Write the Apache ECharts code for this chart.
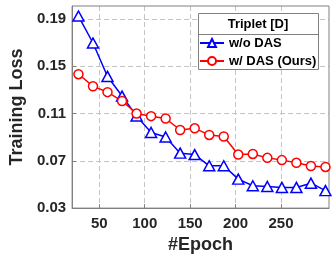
<!DOCTYPE html>
<html><head><meta charset="utf-8">
<script src="https://cdn.jsdelivr.net/npm/echarts@6/dist/echarts.min.js"></script>
<style>html,body{margin:0;padding:0;background:#fff}#c{width:332px;height:259px}</style>
</head><body><div id="c"></div>
<script>
const epochs = [27,43,59,75,91,107,123,139,155,171,187,203,219,235,251,267,283,299];
const woDAS = [0.1925,0.1697,0.1414,0.1248,0.1080,0.0940,0.0902,0.0765,0.0753,0.0658,0.0658,0.0545,0.0489,0.0483,0.0475,0.0475,0.0511,0.0448];
const wDAS = [0.1433,0.1331,0.1281,0.1206,0.1100,0.1078,0.1058,0.0961,0.0975,0.0919,0.0906,0.0753,0.0758,0.0725,0.0706,0.0683,0.0656,0.0648];
const xTicks = [50,100,150,200,250];
const yTicks = [0.03,0.07,0.11,0.15,0.19];
const seriesNames = ['w/o DAS','w/ DAS (Ours)'];
const legendTitle = 'Triplet [D]';

const FONT = 'Liberation Sans';
const TXT = '#262626';
const chart = echarts.init(document.getElementById('c'), null, {renderer:'canvas'});
const pair = (xs, ys) => xs.map((x,i)=>[x, ys[i]]);
chart.setOption({
  animation:false,
  backgroundColor:'#fff',
  grid:{left:58, right:3, top:6, bottom:49, show:true, borderColor:'#808080', borderWidth:1, backgroundColor:'transparent', z:3},
  xAxis:{
    type:'value', min:20, max:302.9,
    name:'#Epoch', nameLocation:'middle', nameGap:22,
    nameTextStyle:{fontFamily:FONT, fontWeight:'bold', fontSize:18, color:TXT},
    axisLine:{show:true, lineStyle:{color:'#808080', width:1}},
    axisTick:{show:true, inside:true, length:4, customValues:xTicks, lineStyle:{color:'#808080'}},
    axisLabel:{customValues:xTicks, margin:8, fontFamily:FONT, fontWeight:'bold', fontSize:15, color:TXT},
    splitLine:{show:true, lineStyle:{color:'#c4c4c4', type:[5,3], width:1}}
  },
  yAxis:{
    type:'value', min:0.03, max:0.201,
    name:'Training Loss', nameLocation:'middle', nameGap:43,
    nameTextStyle:{fontFamily:FONT, fontWeight:'bold', fontSize:18, color:TXT},
    axisLine:{show:true, lineStyle:{color:'#808080', width:1}},
    axisTick:{show:true, inside:true, length:4, customValues:yTicks, lineStyle:{color:'#808080'}},
    axisLabel:{customValues:yTicks, margin:6, fontFamily:FONT, fontWeight:'bold', fontSize:15, color:TXT, formatter:v=>v.toFixed(2)},
    splitLine:{show:true, lineStyle:{color:'#c4c4c4', type:[5,3], width:1}}
  },
  legend:{
    left:199, top:36, orient:'vertical', padding:0, itemGap:4,
    itemWidth:24, itemHeight:10, z:20,
    textStyle:{fontFamily:FONT, fontWeight:'bold', fontSize:13, color:'#000', lineHeight:14},
    data:seriesNames
  },
  graphic:[
    {type:'rect', z:15, shape:{x:198.5, y:13.5, width:120, height:56}, style:{fill:'#fff', stroke:'#808080', lineWidth:1}},
    {type:'line', z:16, shape:{x1:198.5, y1:34.5, x2:318.5, y2:34.5}, style:{stroke:'#808080', lineWidth:1}},
    {type:'text', z:16, x:258, y:24, style:{text:legendTitle, fontFamily:FONT, fontWeight:'bold', fontSize:13, fill:'#000', align:'center', verticalAlign:'middle'}}
  ],
  series:[
    {name:seriesNames[0], type:'line', data:pair(epochs, woDAS), symbol:'triangle', symbolSize:[11,10],
     itemStyle:{color:'#fff', borderColor:'#0000ff', borderWidth:1.5},
     lineStyle:{color:'#0000ff', width:1.5}, z:5},
    {name:seriesNames[1], type:'line', data:pair(epochs, wDAS), symbol:'circle', symbolSize:9,
     itemStyle:{color:'#fff', borderColor:'#ff0000', borderWidth:1.5},
     lineStyle:{color:'#ff0000', width:1.5}, z:5}
  ]
});
</script></body></html>
